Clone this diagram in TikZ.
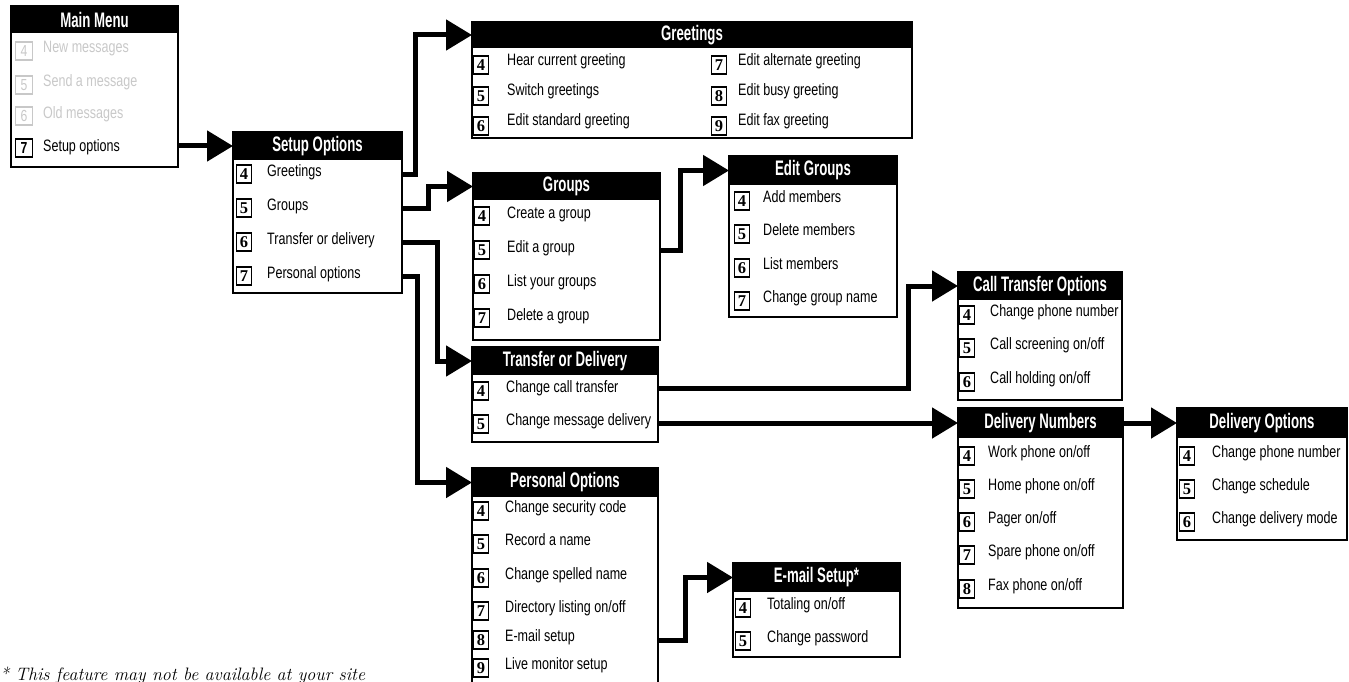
\documentclass[tikz,border=0pt]{standalone}
\usepackage{fontspec}
\usetikzlibrary{arrows.meta}
\newfontfamily\headfont[FakeStretch=0.63]{Liberation Sans}
\newfontfamily\itemfont[FakeStretch=0.76]{Liberation Sans}
\newfontfamily\numfont{Liberation Serif}
\definecolor{faded}{RGB}{200,200,200}

\tikzset{
  menu/.style={draw, line width=2pt, inner sep=0pt, outer sep=0pt, anchor=north west},
  head/.style={fill=black, text=white, inner sep=0pt, outer sep=0pt, anchor=north west,
    minimum height=28pt, font=\headfont\bfseries\fontsize{21}{22}\selectfont},
  num/.style={draw, line width=1.7pt, inner sep=0pt, minimum width=15pt, minimum height=18pt,
    font=\numfont\bfseries\fontsize{16.5}{17}\selectfont},
  item/.style={anchor=west, inner sep=0pt, text height=12pt, text depth=4pt,
    font=\itemfont\fontsize{16.5}{18}\selectfont},
  link/.style={line width=5pt, -{Triangle[length=26pt, width=30pt]}},
  note/.style={anchor=base west, inner sep=0pt, font=\itshape\fontsize{18}{20}\selectfont}
}

\begin{document}
\begin{tikzpicture}[x=1pt, y=-1pt]
    \useasboundingbox (0,0) rectangle (1349,682);

    % main menu
    \node[menu, minimum width=167pt, minimum height=161pt] (mm) at (11,6) {};
    \node[head, minimum width=167pt, minimum height=27pt] (mm-head) at (11,6) {Main Menu};
    \node[num, draw=faded, text=faded, font=\itemfont\fontsize{16}{18}\selectfont, minimum width=17pt] (mm-n4) at (24,51) {4};
    \node[item, text=faded] (mm-4) at (43,49) {New messages};
    \node[num, draw=faded, text=faded, font=\itemfont\fontsize{16}{18}\selectfont, minimum width=17pt] (mm-n5) at (24,85) {5};
    \node[item, text=faded] (mm-5) at (43,83) {Send a message};
    \node[num, draw=faded, text=faded, font=\itemfont\fontsize{16}{18}\selectfont, minimum width=17pt] (mm-n6) at (24,116) {6};
    \node[item, text=faded] (mm-6) at (43,115) {Old messages};
    \node[num, font=\itemfont\bfseries\fontsize{16}{18}\selectfont, minimum width=17pt] (mm-n7) at (24,148) {7};
    \node[item] (mm-7) at (43,147) {Setup options};

    % setup options
    \node[menu, minimum width=169pt, minimum height=161pt] (so) at (233,132) {};
    \node[head, minimum width=169pt] (so-head) at (233,132) {Setup Options};
    \node[num] (so-n4) at (244,174) {4};
    \node[item] (so-4) at (267,172) {Greetings};
    \node[num] (so-n5) at (244,208) {5};
    \node[item] (so-5) at (267,206) {Groups};
    \node[num] (so-n6) at (244,242) {6};
    \node[item] (so-6) at (267,240) {Transfer or delivery};
    \node[num] (so-n7) at (244,276) {7};
    \node[item] (so-7) at (267,274) {Personal options};

    % greetings
    \node[menu, minimum width=440pt, minimum height=116pt] (gr) at (472,22) {};
    \node[head, minimum width=440pt, minimum height=26pt] (gr-head) at (472,22) {Greetings};
    \node[num] (gr-n4) at (481,65) {4};
    \node[item] (gr-4) at (507,62) {Hear current greeting};
    \node[num] (gr-n5) at (481,96) {5};
    \node[item] (gr-5) at (507,92) {Switch greetings};
    \node[num] (gr-n6) at (481,126) {6};
    \node[item] (gr-6) at (507,122) {Edit standard greeting};
    \node[num] (gr-n7) at (719,65) {7};
    \node[item] (gr-7) at (738,62) {Edit alternate greeting};
    \node[num] (gr-n8) at (719,96) {8};
    \node[item] (gr-8) at (738,92) {Edit busy greeting};
    \node[num] (gr-n9) at (719,126) {9};
    \node[item] (gr-9) at (738,122) {Edit fax greeting};

    % groups
    \node[menu, minimum width=187pt, minimum height=167pt] (gp) at (473,173) {};
    \node[head, minimum width=187pt, minimum height=27pt] (gp-head) at (473,173) {Groups};
    \node[num] (gp-n4) at (482,216) {4};
    \node[item] (gp-4) at (507,214) {Create a group};
    \node[num] (gp-n5) at (482,250) {5};
    \node[item] (gp-5) at (507,248) {Edit a group};
    \node[num] (gp-n6) at (482,284) {6};
    \node[item] (gp-6) at (507,282) {List your groups};
    \node[num] (gp-n7) at (482,318) {7};
    \node[item] (gp-7) at (507,316) {Delete a group};

    % edit groups
    \node[menu, minimum width=168pt, minimum height=161pt] (eg) at (729,156) {};
    \node[head, minimum width=168pt, minimum height=29pt] (eg-head) at (729,156) {Edit Groups};
    \node[num] (eg-n4) at (742,201) {4};
    \node[item] (eg-4) at (763,198) {Add members};
    \node[num] (eg-n5) at (742,234) {5};
    \node[item] (eg-5) at (763,231) {Delete members};
    \node[num] (eg-n6) at (742,268) {6};
    \node[item] (eg-6) at (763,265) {List members};
    \node[num] (eg-n7) at (742,301) {7};
    \node[item] (eg-7) at (763,298) {Change group name};

    % transfer or delivery
    \node[menu, minimum width=186pt, minimum height=95pt] (td) at (472,347) {};
    \node[head, minimum width=186pt] (td-head) at (472,347) {Transfer or Delivery};
    \node[num] (td-n4) at (481,391) {4};
    \node[item] (td-4) at (506,388) {Change call transfer};
    \node[num] (td-n5) at (481,424) {5};
    \node[item] (td-5) at (506,421) {Change message delivery};

    % personal options
    \node[menu, minimum width=186pt, minimum height=240pt] (po) at (472,468) {};
    \node[head, minimum width=186pt, minimum height=29pt] (po-head) at (472,468) {Personal Options};
    \node[num] (po-n4) at (481,511) {4};
    \node[item] (po-4) at (505,508) {Change security code};
    \node[num] (po-n5) at (481,544) {5};
    \node[item] (po-5) at (505,541) {Record a name};
    \node[num] (po-n6) at (481,578) {6};
    \node[item] (po-6) at (505,575) {Change spelled name};
    \node[num] (po-n7) at (481,611) {7};
    \node[item] (po-7) at (505,608) {Directory listing on/off};
    \node[num] (po-n8) at (481,640) {8};
    \node[item] (po-8) at (505,637) {E-mail setup};
    \node[num] (po-n9) at (481,668) {9};
    \node[item] (po-9) at (505,665) {Live monitor setup};

    % e-mail setup
    \node[menu, minimum width=167pt, minimum height=94pt] (es) at (733,563) {};
    \node[head, minimum width=167pt, minimum height=29pt] (es-head) at (733,563) {E-mail Setup*};
    \node[num] (es-n4) at (743,608) {4};
    \node[item] (es-4) at (767,605) {Totaling on/off};
    \node[num] (es-n5) at (743,641) {5};
    \node[item] (es-5) at (767,638) {Change password};

    % call transfer options
    \node[menu, minimum width=164pt, minimum height=128pt] (ct) at (958,272) {};
    \node[head, minimum width=164pt] (ct-head) at (958,272) {Call Transfer Options};
    \node[num] (ct-n4) at (967,315) {4};
    \node[item] (ct-4) at (990,312) {Change phone number};
    \node[num] (ct-n5) at (967,348) {5};
    \node[item] (ct-5) at (990,345) {Call screening on/off};
    \node[num] (ct-n6) at (967,382) {6};
    \node[item] (ct-6) at (990,379) {Call holding on/off};

    % delivery numbers
    \node[menu, minimum width=165pt, minimum height=200pt] (dn) at (958,408) {};
    \node[head, minimum width=165pt, minimum height=30pt] (dn-head) at (958,408) {Delivery Numbers};
    \node[num] (dn-n4) at (967,456) {4};
    \node[item] (dn-4) at (988,453) {Work phone on/off};
    \node[num] (dn-n5) at (967,489) {5};
    \node[item] (dn-5) at (988,486) {Home phone on/off};
    \node[num] (dn-n6) at (967,522) {6};
    \node[item] (dn-6) at (988,519) {Pager on/off};
    \node[num] (dn-n7) at (967,555) {7};
    \node[item] (dn-7) at (988,552) {Spare phone on/off};
    \node[num] (dn-n8) at (967,589) {8};
    \node[item] (dn-8) at (988,586) {Fax phone on/off};

    % delivery options
    \node[menu, minimum width=170pt, minimum height=132pt] (dopt) at (1177,408) {};
    \node[head, minimum width=170pt, minimum height=30pt] (dopt-head) at (1177,408) {Delivery Options};
    \node[num] (dopt-n4) at (1187,456) {4};
    \node[item] (dopt-4) at (1212,453) {Change phone number};
    \node[num] (dopt-n5) at (1187,489) {5};
    \node[item] (dopt-5) at (1212,486) {Change schedule};
    \node[num] (dopt-n6) at (1187,522) {6};
    \node[item] (dopt-6) at (1212,519) {Change delivery mode};

    % connectors
    \draw[link] (mm.east |- so-head) -- (so-head.west);
    \draw[link] (so.east |- so-n4) -- ++(13,0) |- (gr-head.west);
    \draw[link] (so.east |- so-n5) -- ++(26,0) |- (gp-head.west);
    \draw[link] (so.east |- so-n6) -- ++(35,0) |- (td-head.west);
    \draw[link] (so.east |- so-n7) -- ++(15,0) |- (po-head.west);
    \draw[link] (gp.east |- gp-n5) -- ++(20,0) |- (eg-head.west);
    \draw[link] (td.east |- td-4) -- ++(250,0) |- (ct-head.west);
    \draw[link] (td.east |- dn-head) -- (dn-head.west);
    \draw[link] (dn-head.east) -- (dopt-head.west);
    \draw[link] (po.east |- po-n8) -- ++(27,0) |- (es-head.west);

    \node[note] (footnote) at (0,680) {* This feature may not be available at your site};
\end{tikzpicture}
\end{document}
